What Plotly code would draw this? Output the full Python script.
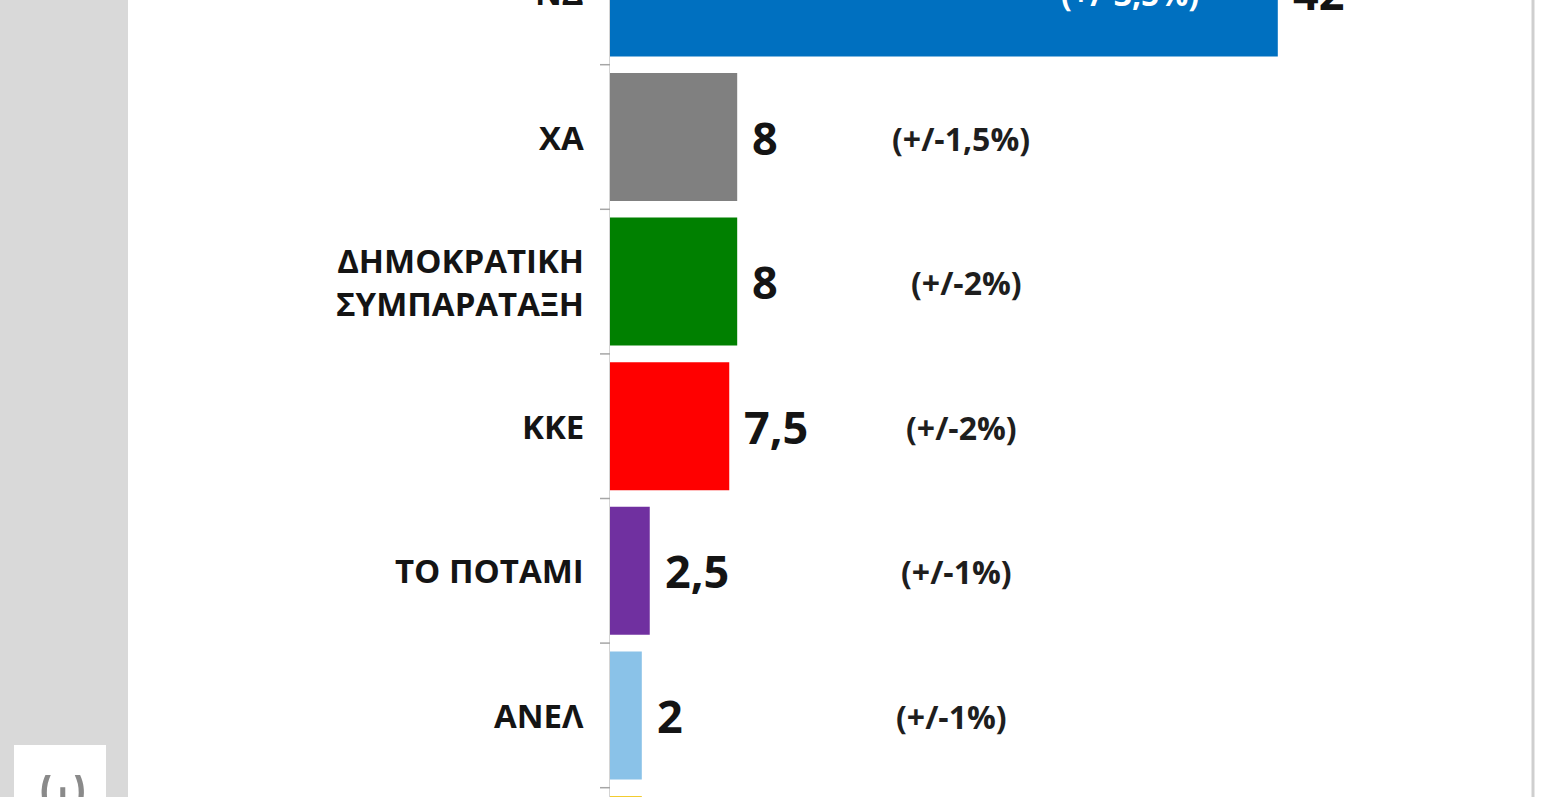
import plotly.graph_objects as go

parties = ["ΝΔ", "ΧΑ", "ΔΗΜΟΚΡΑΤΙΚΗ<br>ΣΥΜΠΑΡΑΤΑΞΗ", "ΚΚΕ", "ΤΟ ΠΟΤΑΜΙ", "ΑΝΕΛ", "ΕΝΩΣΗ ΚΕΝΤΡΩΩΝ"]
values = [42, 8, 8, 7.5, 2.5, 2, 2]
value_labels = ["42", "8", "8", "7,5", "2,5", "2", "2"]
margins = ["(+/-3,5%)", "(+/-1,5%)", "(+/-2%)", "(+/-2%)", "(+/-1%)", "(+/-1%)", ""]
colors = ["#0070c0", "#808080", "#008000", "#ff0000", "#7030a0", "#8ac2e8", "#f2cc30"]
margin_x = [32.7, 22.1, 22.4, 22.1, 21.8, 21.5, 21.2]

FONT = "Open Sans"
W, H = 1555, 797
L, R = 610, 22
PW = W - L - R
PXU = 15.9  # pixels per unit

spacing = 144.6
top_center = -7.6
y_top = -top_center / spacing
y_bot = (H - top_center) / spacing


def ypaper(i):
    # paper y of the center of category i
    return (H - (top_center + i * spacing)) / H


fig = go.Figure()
idx = list(range(len(parties)))
fig.add_trace(go.Bar(
    y=idx, x=values, orientation="h",
    marker=dict(color=colors, line=dict(width=0)),
    hoverinfo="skip", width=0.885,
))

ann = []
for i, (p, v, vl, m, mx) in enumerate(zip(parties, values, value_labels, margins, margin_x)):
    yp = ypaper(i)
    ann.append(dict(x=v, y=yp, xref="x", yref="paper", text=f"<b>{vl}</b>", showarrow=False,
                    xanchor="left", yanchor="middle", xshift=13, yshift=0,
                    font=dict(family=FONT, size=45, color="#141414")))
    if m:
        ann.append(dict(x=mx, y=yp, xref="x", yref="paper", text=f"<b>{m}</b>", showarrow=False,
                        xanchor="center", yanchor="middle", yshift=-1,
                        font=dict(family=FONT, size=32,
                                  color="#ffffff" if i == 0 else "#1e1e1e")))
    ann.append(dict(x=0, y=yp, xref="x", yref="paper", text=f"<b>{p}</b>", showarrow=False,
                    xanchor="right", yanchor="middle", xshift=-24, align="right",
                    font=dict(family=FONT, size=33, color="#141414")))

shapes = [
    dict(type="rect", xref="paper", yref="paper", x0=-L / PW, x1=(128 - L) / PW, y0=0, y1=1,
         fillcolor="#d9d9d9", line=dict(width=0), layer="below"),
    dict(type="rect", xref="paper", yref="paper", x0=(14 - L) / PW, x1=(106 - L) / PW,
         y0=-0.05, y1=(H - 745) / H, fillcolor="#ffffff", line=dict(width=0), layer="below"),
    dict(type="line", xref="paper", yref="paper", x0=1.0, x1=1.0, y0=0, y1=1,
         line=dict(color="#cfcfcf", width=3)),
]
ann.append(dict(xref="paper", yref="paper", x=(63 - L) / PW, y=(H - 784) / H, text="ω",
                showarrow=False, xanchor="center", yanchor="middle",
                font=dict(family=FONT, size=64, color="#8a8a8a")))

fig.update_layout(
    width=W, height=H,
    margin=dict(l=L, r=R, t=0, b=0),
    paper_bgcolor="#ffffff", plot_bgcolor="#ffffff",
    showlegend=False,
    xaxis=dict(range=[0, PW / PXU], visible=False, fixedrange=True),
    yaxis=dict(range=[y_bot, y_top], tickmode="array", tickvals=idx,
               showticklabels=False,
               showline=True, linecolor="#d4d4d4", linewidth=1,
               ticks="", showgrid=False, zeroline=False, fixedrange=True),
    annotations=ann, shapes=shapes,
    bargap=0.115,
)

# boundary tick marks
for b in [i + 0.5 for i in range(-1, len(parties))]:
    fig.add_shape(type="line", xref="paper", yref="y", x0=-10 / PW, x1=0, y0=b, y1=b,
                  line=dict(color="#a6a6a6", width=1.5))

fig.write_html("out.html", config={"displayModeBar": False},
               post_script="document.body.style.margin='0';")
